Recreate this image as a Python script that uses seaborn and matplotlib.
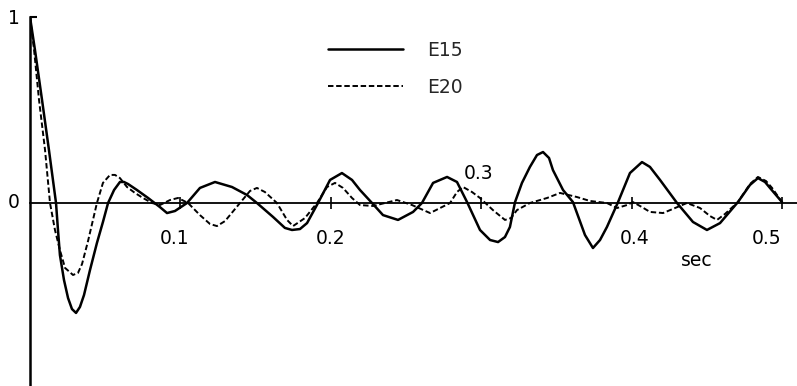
import numpy as np
import pandas as pd
import matplotlib
matplotlib.use("Agg")
import matplotlib.pyplot as plt
import seaborn as sns

# ---- data (time in sec, normalised value) ----
t_e15 = [0.000, 0.0033, 0.0080, 0.0126, 0.0173, 0.0186, 0.0199, 0.0226, 0.0253, 0.0279,
         0.0306, 0.0332, 0.0359, 0.0399, 0.0445, 0.0485, 0.0519, 0.0559, 0.0598, 0.0625,
         0.0652, 0.0711, 0.0785, 0.0864, 0.0911, 0.0964, 0.1044, 0.1130, 0.1230, 0.1343,
         0.1443, 0.1509, 0.1616, 0.1695, 0.1742, 0.1795, 0.1842, 0.1915, 0.1995, 0.2074,
         0.2141, 0.2194, 0.2274, 0.2347, 0.2447, 0.2547, 0.2606, 0.2680, 0.2773, 0.2839,
         0.2906, 0.2992, 0.3059, 0.3112, 0.3158, 0.3191, 0.3225, 0.3271, 0.3324, 0.3371,
         0.3411, 0.3451, 0.3477, 0.3544, 0.3610, 0.3690, 0.3743, 0.3790, 0.3836, 0.3910,
         0.3989, 0.4069, 0.4122, 0.4189, 0.4302, 0.4408, 0.4501, 0.4588, 0.4707, 0.4787,
         0.4840, 0.4887, 0.4920, 0.5000]
v_e15 = [1.000, 0.823, 0.554, 0.285, 0.000, -0.145, -0.280, -0.414, -0.511, -0.570,
         -0.591, -0.559, -0.495, -0.360, -0.215, -0.102, 0.000, 0.070, 0.113, 0.113,
         0.102, 0.070, 0.027, -0.022, -0.054, -0.043, 0.000, 0.081, 0.113, 0.086,
         0.043, 0.000, -0.075, -0.134, -0.145, -0.140, -0.108, 0.000, 0.124, 0.161,
         0.124, 0.070, 0.000, -0.065, -0.091, -0.048, 0.000, 0.108, 0.140, 0.113,
         0.005, -0.145, -0.199, -0.210, -0.183, -0.129, 0.005, 0.108, 0.194, 0.258,
         0.274, 0.242, 0.177, 0.070, 0.005, -0.172, -0.242, -0.199, -0.129, 0.005,
         0.161, 0.220, 0.194, 0.124, 0.000, -0.102, -0.145, -0.108, 0.005, 0.097,
         0.134, 0.113, 0.081, 0.005]

t_e20 = [0.000, 0.0027, 0.0060, 0.0100, 0.0133, 0.0166, 0.0199, 0.0233, 0.0286, 0.0319,
         0.0346, 0.0386, 0.0445, 0.0485, 0.0532, 0.0565, 0.0598, 0.0645, 0.0698, 0.0751,
         0.0811, 0.0864, 0.0931, 0.0984, 0.1051, 0.1130, 0.1197, 0.1243, 0.1297, 0.1396,
         0.1463, 0.1509, 0.1562, 0.1642, 0.1709, 0.1749, 0.1828, 0.1908, 0.1975, 0.2028,
         0.2081, 0.2141, 0.2194, 0.2281, 0.2360, 0.2440, 0.2540, 0.2660, 0.2739, 0.2793,
         0.2839, 0.2879, 0.2939, 0.2992, 0.3078, 0.3158, 0.3198, 0.3238, 0.3324, 0.3438,
         0.3524, 0.3637, 0.3723, 0.3836, 0.3903, 0.3969, 0.4009, 0.4069, 0.4122, 0.4209,
         0.4289, 0.4368, 0.4455, 0.4521, 0.4568, 0.4621, 0.4707, 0.4787, 0.4840, 0.4894,
         0.4934, 0.5000]
v_e20 = [1.000, 0.823, 0.554, 0.285, 0.000, -0.145, -0.253, -0.349, -0.387, -0.376,
         -0.328, -0.204, 0.000, 0.108, 0.151, 0.151, 0.134, 0.086, 0.054, 0.027,
         0.000, -0.011, 0.016, 0.027, 0.000, -0.065, -0.113, -0.124, -0.097, 0.000,
         0.065, 0.081, 0.059, 0.000, -0.091, -0.124, -0.081, 0.000, 0.086, 0.108,
         0.081, 0.027, -0.011, -0.016, 0.000, 0.016, -0.011, -0.054, -0.022, 0.000,
         0.059, 0.086, 0.059, 0.027, -0.038, -0.091, -0.081, -0.038, 0.000, 0.027,
         0.054, 0.032, 0.011, 0.000, -0.027, -0.011, 0.005, -0.022, -0.048, -0.054,
         -0.027, 0.000, -0.027, -0.070, -0.091, -0.059, 0.005, 0.102, 0.140, 0.118,
         0.081, 0.005]

series_names = ["E15", "E20"]
x_ticks = [0.1, 0.2, 0.3, 0.4, 0.5]
x_tick_labels = ["0.1", "0.2", "0.3", "0.4", "0.5"]
y_tick_labels = ["1", "0"]
x_unit = "sec"

# ---- styling ----
sns.set_style("white")
plt.rcParams["font.family"] = ["DejaVu Sans"]

fig = plt.figure(figsize=(7.97, 3.86), dpi=100)
ax = fig.add_axes([30 / 797, 0.0, 1 - 30 / 797, 1 - 17 / 386])

sns.lineplot(x=t_e15, y=v_e15, ax=ax, color="black", lw=1.8, label=series_names[0],
             estimator=None, sort=False)
sns.lineplot(x=t_e20, y=v_e20, ax=ax, color="black", lw=1.4, label=series_names[1],
             estimator=None, sort=False)
ax.lines[1].set_dashes((2.8, 1.4))

ax.set_xlim(0, (797 - 30) / 1504)
ax.set_ylim((203 - 386) / 186, 1.0)

for s in ["top", "right"]:
    ax.spines[s].set_visible(False)
ax.spines["left"].set_linewidth(1.8)
ax.spines["left"].set_color("black")
ax.spines["bottom"].set_position(("data", 0))
ax.spines["bottom"].set_linewidth(1.3)
ax.spines["bottom"].set_color("black")

ax.set_xticks(x_ticks)
ax.set_xticklabels([])
ax.tick_params(axis="x", direction="inout", length=8, width=1.2, color="black", bottom=True)
ax.set_yticks([1.0])
ax.set_yticklabels([])
ax.tick_params(axis="y", direction="in", length=5, width=1.5, color="black", left=True)

fs = 13.5
label_pos = [(0.0964, -0.19), (0.200, -0.19), (0.298, 0.16), (0.402, -0.19), (0.490, -0.19)]
for lab, (xx, yy) in zip(x_tick_labels, label_pos):
    ax.text(xx, yy, lab, ha="center", va="center", fontsize=fs, color="black")
ax.text(0.443, -0.31, x_unit, ha="center", va="center", fontsize=fs, color="black")
ax.text(-0.011, 0.992, y_tick_labels[0], ha="center", va="center", fontsize=fs,
        color="black", clip_on=False)
ax.text(-0.011, 0.0, y_tick_labels[1], ha="center", va="center", fontsize=fs,
        color="black", clip_on=False)

leg = ax.legend(loc="upper left", bbox_to_anchor=(328 / 797, 1 - 41 / 386),
                bbox_transform=fig.transFigure, frameon=False, fontsize=fs,
                handlelength=4.0, handletextpad=1.3, labelspacing=0.95,
                borderpad=0, borderaxespad=0)

fig.savefig("out.png", dpi=100)
